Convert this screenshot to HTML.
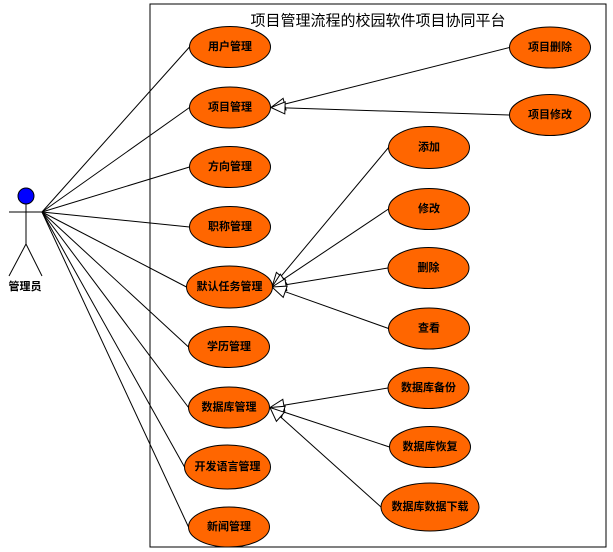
<!DOCTYPE html>
<html>
<head>
<meta charset="utf-8">
<style>
html,body{margin:0;padding:0;background:#fff;}
svg{display:block;}
text{font-family:"Liberation Sans","Noto Sans CJK SC","WenQuanYi Zen Hei",sans-serif;}
.l{font-size:11px;font-weight:bold;fill:#000;text-anchor:middle;dominant-baseline:central;}
.e{fill:#FF6600;stroke:#000;stroke-width:1;}
.ln{stroke:#000;stroke-width:1;fill:none;}
.ar{fill:#fff;stroke:#000;stroke-width:1;}
</style>
</head>
<body>
<svg width="613" height="552" viewBox="0 0 613 552" xmlns="http://www.w3.org/2000/svg">
<rect x="0" y="0" width="613" height="552" fill="#fff"/>
<!-- frame -->
<rect x="150" y="4" width="456" height="543" fill="none" stroke="#000" stroke-width="1"/>
<text x="378" y="21" font-size="15" text-anchor="middle" dominant-baseline="central" fill="#000">项目管理流程的校园软件项目协同平台</text>

<!-- actor -->
<circle cx="26" cy="196" r="8" fill="#0000FF" stroke="#000" stroke-width="1"/>
<line class="ln" x1="26" y1="204" x2="26" y2="244"/>
<line class="ln" x1="9" y1="212" x2="42" y2="212"/>
<line class="ln" x1="26" y1="244" x2="9" y2="276"/>
<line class="ln" x1="26" y1="244" x2="42" y2="276"/>
<text class="l" x="25" y="287">管理员</text>

<!-- actor associations -->
<line class="ln" x1="42" y1="212" x2="189.5" y2="47"/>
<line class="ln" x1="42" y1="212" x2="189.5" y2="107.5"/>
<line class="ln" x1="42" y1="212" x2="189.5" y2="167"/>
<line class="ln" x1="42" y1="212" x2="189.5" y2="227"/>
<line class="ln" x1="42" y1="212" x2="186.5" y2="287"/>
<line class="ln" x1="42" y1="212" x2="188.5" y2="347"/>
<line class="ln" x1="42" y1="212" x2="188.5" y2="407.5"/>
<line class="ln" x1="42" y1="212" x2="184.5" y2="467"/>
<line class="ln" x1="42" y1="212" x2="188.5" y2="527"/>

<!-- generalization lines -->
<line class="ln" x1="509.5" y1="47.5" x2="284.6" y2="104.1"/>
<line class="ln" x1="509.5" y1="115" x2="285.0" y2="107.9"/>
<line class="ln" x1="388.5" y1="147.5" x2="281.0" y2="276.3"/>
<line class="ln" x1="388.5" y1="209" x2="283.6" y2="279.2"/>
<line class="ln" x1="388" y1="268" x2="285.8" y2="284.7"/>
<line class="ln" x1="388.5" y1="328.5" x2="285.2" y2="291.7"/>
<line class="ln" x1="388" y1="388" x2="283.8" y2="405.2"/>
<line class="ln" x1="389.5" y1="447" x2="283.3" y2="411.9"/>
<line class="ln" x1="381" y1="507" x2="280.4" y2="416.8"/>

<!-- arrowheads -->
<polygon class="ar" points="271,107.5 286.0,109.9 283.1,98.3"/>
<polygon class="ar" points="271,107.5 284.8,113.9 285.2,101.9"/>
<polygon class="ar" points="272,287 285.6,280.1 276.4,272.4"/>
<polygon class="ar" points="272,287 287.0,284.2 280.3,274.2"/>
<polygon class="ar" points="272,287 286.8,290.6 284.9,278.8"/>
<polygon class="ar" points="272,287 283.2,297.4 287.2,286.1"/>
<polygon class="ar" points="270,407.5 284.8,411.1 282.8,399.3"/>
<polygon class="ar" points="270,407.5 281.4,417.6 285.2,406.2"/>
<polygon class="ar" points="270,407.5 276.4,421.3 284.4,412.3"/>

<!-- left column use cases -->
<ellipse class="e" cx="230" cy="47" rx="40.5" ry="20.5"/>
<text class="l" x="230" y="47">用户管理</text>
<ellipse class="e" cx="230" cy="107.5" rx="40.5" ry="20.5"/>
<text class="l" x="230" y="107.5">项目管理</text>
<ellipse class="e" cx="230" cy="167" rx="40.5" ry="20.5"/>
<text class="l" x="230" y="167">方向管理</text>
<ellipse class="e" cx="230" cy="227" rx="40.5" ry="20.5"/>
<text class="l" x="230" y="227">职称管理</text>
<ellipse class="e" cx="229.5" cy="287" rx="43" ry="21"/>
<text class="l" x="229.5" y="287">默认任务管理</text>
<ellipse class="e" cx="229" cy="347" rx="40.5" ry="20.5"/>
<text class="l" x="229" y="347">学历管理</text>
<ellipse class="e" cx="229" cy="407.5" rx="40.5" ry="20.5"/>
<text class="l" x="229" y="407.5">数据库管理</text>
<ellipse class="e" cx="227.5" cy="467" rx="43" ry="22"/>
<text class="l" x="227.5" y="467">开发语言管理</text>
<ellipse class="e" cx="229" cy="527" rx="40.5" ry="20"/>
<text class="l" x="229" y="527">新闻管理</text>

<!-- right use cases -->
<ellipse class="e" cx="550" cy="47.5" rx="40.5" ry="20.5"/>
<text class="l" x="550" y="47.5">项目删除</text>
<ellipse class="e" cx="550" cy="115" rx="40.5" ry="20.5"/>
<text class="l" x="550" y="115">项目修改</text>
<ellipse class="e" cx="429" cy="147.5" rx="40.5" ry="21"/>
<text class="l" x="429" y="147.5">添加</text>
<ellipse class="e" cx="429" cy="209" rx="40.5" ry="20.5"/>
<text class="l" x="429" y="209">修改</text>
<ellipse class="e" cx="428.5" cy="268" rx="40.5" ry="20.5"/>
<text class="l" x="428.5" y="268">删除</text>
<ellipse class="e" cx="429" cy="328.5" rx="40.5" ry="20.5"/>
<text class="l" x="429" y="328.5">查看</text>
<ellipse class="e" cx="428.5" cy="388" rx="40.5" ry="20.5"/>
<text class="l" x="428.5" y="388">数据库备份</text>
<ellipse class="e" cx="430" cy="447" rx="40.5" ry="20.5"/>
<text class="l" x="430" y="447">数据库恢复</text>
<ellipse class="e" cx="430" cy="507" rx="49" ry="24"/>
<text class="l" x="430" y="507">数据库数据下载</text>
</svg>
</body>
</html>
